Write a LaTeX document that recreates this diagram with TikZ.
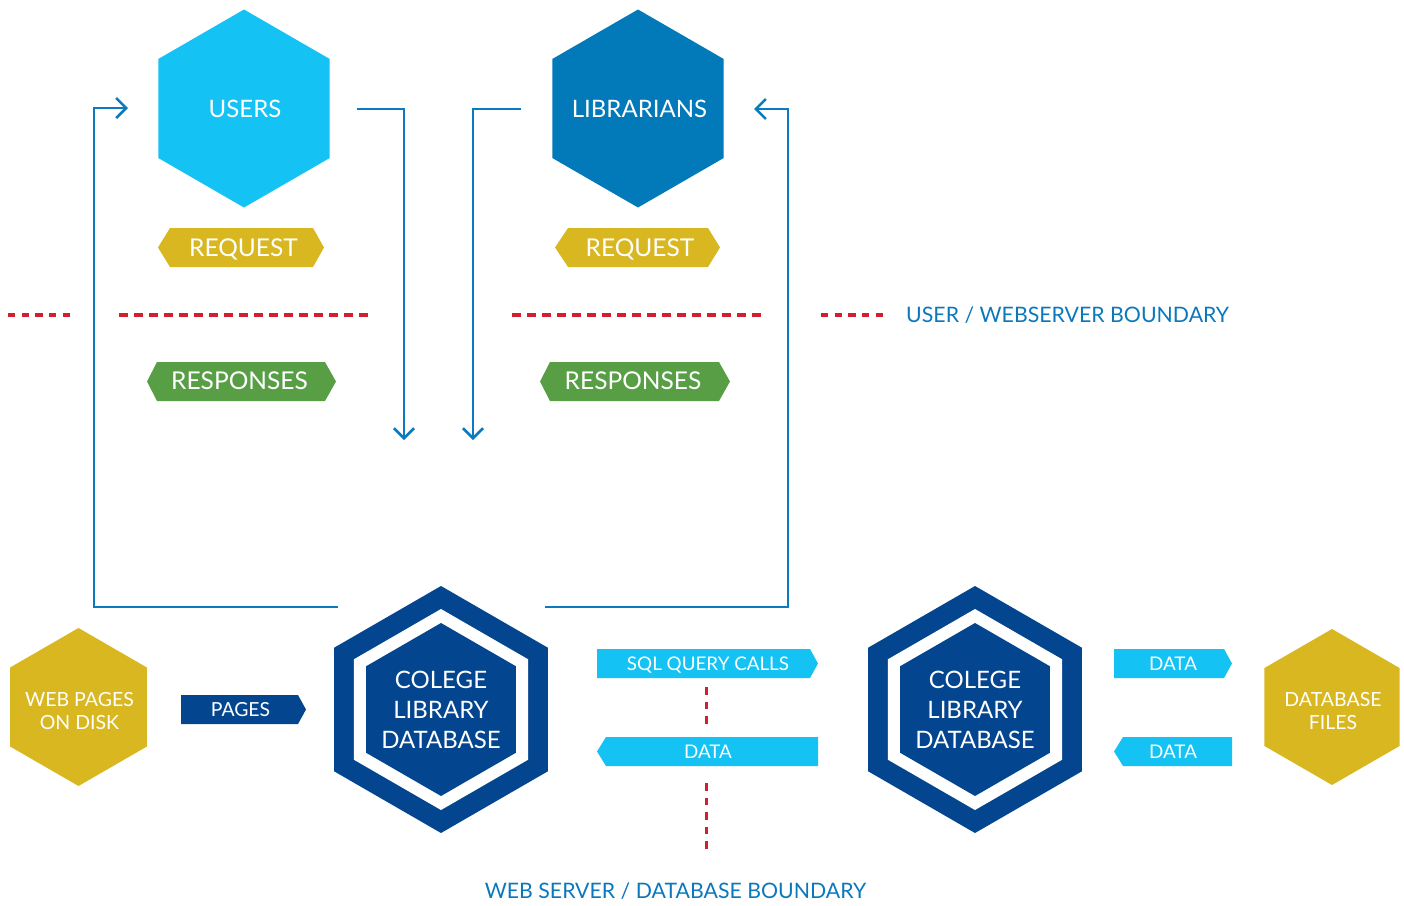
\documentclass[tikz,border=0pt]{standalone}
\usepackage{fontspec}
\setmainfont{Lato}
\usetikzlibrary{shapes.geometric,arrows.meta,calc}
\definecolor{lightblue}{HTML}{14C3F3}
\definecolor{midblue}{HTML}{0279B8}
\definecolor{navy}{HTML}{03468F}
\definecolor{gold}{HTML}{D8B720}
\definecolor{leaf}{HTML}{579E44}
\definecolor{linkblue}{HTML}{0A7BC1}
\definecolor{bred}{HTML}{D01F2E}
\definecolor{textblue}{HTML}{0B78BD}
% colour, left x, right x, top y, bottom y, left tip, right tip
\newcommand{\tagpoly}[7]{\fill[#1] ({#2+#6},#4) -- ({#3-#7},#4) -- (#3,{(#4+#5)/2}) -- ({#3-#7},#5) -- ({#2+#6},#5) -- (#2,{(#4+#5)/2}) -- cycle;}
\begin{document}
\begin{tikzpicture}[x=1pt,y=-1pt,
  hex/.style={regular polygon, regular polygon sides=6, shape border rotate=30,
    inner sep=0pt, outer sep=0pt, draw=none},
  hextext/.style={text=white, align=center, inner sep=0pt},
  bigtag/.style={text=white, inner sep=0pt, font=\fontsize{24.5}{28}\selectfont, text height=17.5pt, text depth=0pt},
  smalltag/.style={text=white, inner sep=0pt, font=\fontsize{18.8}{22}\selectfont, text height=13.4pt, text depth=0pt},
  flow/.style={draw=linkblue, line width=2.5pt, -{Straight Barb[length=10pt,width=20pt]}},
  boundary/.style={draw=bred, line width=3.2pt, dash pattern=on 7.3pt off 6.4pt},
  longboundary/.style={draw=bred, line width=3.2pt, dash pattern=on 8.5pt off 6.5pt},
  vboundary/.style={draw=bred, line width=3pt, dash pattern=on 7.5pt off 7pt},
  btext/.style={text=textblue, inner sep=0pt, font=\fontsize{21.3}{26}\selectfont, text height=15.3pt, text depth=0pt}]
\useasboundingbox (0,0) rectangle (1404,905);

% top actors
\node[hex, fill=lightblue, minimum size=198] (users) at (244,108.5) {};
\node[hextext, font=\fontsize{24}{28}\selectfont, text height=17.2pt, text depth=0pt] (users-t) at (245,108.5) {USERS};
\node[hex, fill=midblue, minimum size=198] (libr) at (638,108.5) {};
\node[hextext, font=\fontsize{24}{28}\selectfont, text height=17.2pt, text depth=0pt] (libr-t) at (639.5,108.5) {LIBRARIANS};

% tags
\tagpoly{gold}{158}{324}{228}{267}{12}{11}
\node[bigtag] (req1) at (243.5,247.5) {REQUEST};
\tagpoly{gold}{555}{720}{228}{267}{13}{12}
\node[bigtag] (req2) at (640,247.5) {REQUEST};
\tagpoly{leaf}{147}{336}{362}{401}{10}{11}
\node[bigtag] (resp1) at (239.5,381) {RESPONSES};
\tagpoly{leaf}{540}{730}{362}{401}{10}{11}
\node[bigtag] (resp2) at (633,381) {RESPONSES};

% user / webserver boundary
\draw[boundary] (8,315) -- (70,315);
\draw[longboundary] (119,315) -- (368,315);
\draw[longboundary] (512,315) -- (762,315);
\draw[boundary] (821,315) -- (883,315);
\node[btext, anchor=west] (ub) at (906,315) {USER / WEBSERVER BOUNDARY};

% bottom row
\node[hex, fill=gold, minimum size=158] (web) at (78.5,707) {};
\node[hextext, font=\fontsize{19.5}{23}\selectfont] (web-t) at (79.5,711) {WEB PAGES\\ON DISK};
\tagpoly{navy}{181}{306}{695}{724}{0}{8}
\node[text=white, inner sep=0pt, font=\fontsize{19.4}{22}\selectfont, text height=13.9pt, text depth=0pt] (pages) at (240.5,709.5) {PAGES};

\node[hex, fill=navy, minimum size=247] (db1) at (441,709.5) {};
\node[hex, fill=white, minimum size=201] (db1w) at (441,709.5) {};
\node[hex, fill=navy, minimum size=173] (db1i) at (441,709.5) {};
\node[hextext, font=\fontsize{24}{30}\selectfont] (db1t) at (441,709.5) {COLEGE\\LIBRARY\\DATABASE};

\tagpoly{lightblue}{597}{818}{649}{678}{0}{8}
\node[smalltag] (sql) at (708,664) {SQL QUERY CALLS};
\tagpoly{lightblue}{597}{818}{737}{766}{9}{0}
\node[smalltag] (data1) at (708,752) {DATA};

\draw[vboundary] (706,687) -- (706,729);
\draw[vboundary] (706,783) -- (706,853);
\node[btext] (wb) at (675.5,890.5) {WEB SERVER / DATABASE BOUNDARY};

\node[hex, fill=navy, minimum size=247] (db2) at (975,709.5) {};
\node[hex, fill=white, minimum size=201] (db2w) at (975,709.5) {};
\node[hex, fill=navy, minimum size=173] (db2i) at (975,709.5) {};
\node[hextext, font=\fontsize{24}{30}\selectfont] (db2t) at (975,709.5) {COLEGE\\LIBRARY\\DATABASE};

\tagpoly{lightblue}{1114}{1232}{649}{678}{0}{8}
\node[smalltag] (data2) at (1173,664) {DATA};
\tagpoly{lightblue}{1114}{1232}{737}{766}{9}{0}
\node[smalltag] (data3) at (1173,752) {DATA};

\node[hex, fill=gold, minimum size=156] (files) at (1332,707) {};
\node[hextext, font=\fontsize{19.5}{23}\selectfont] (files-t) at (1333,711) {DATABASE\\FILES};

% connectors
\coordinate (l1s) at (338,607);
\coordinate (l1k) at (94,108);
\coordinate (l1e) at (128,108);
\draw[flow] (l1s) -| (l1k) -- (l1e);

\coordinate (l2s) at (357,109);
\coordinate (l2e) at (404,440);
\draw[flow] (l2s) -| (l2e);

\coordinate (l3s) at (521,109);
\coordinate (l3e) at (473,440);
\draw[flow] (l3s) -| (l3e);

\coordinate (l4s) at (545,607);
\coordinate (l4k) at (788,109);
\coordinate (l4e) at (754,109);
\draw[flow] (l4s) -| (l4k) -- (l4e);
\end{tikzpicture}
\end{document}
